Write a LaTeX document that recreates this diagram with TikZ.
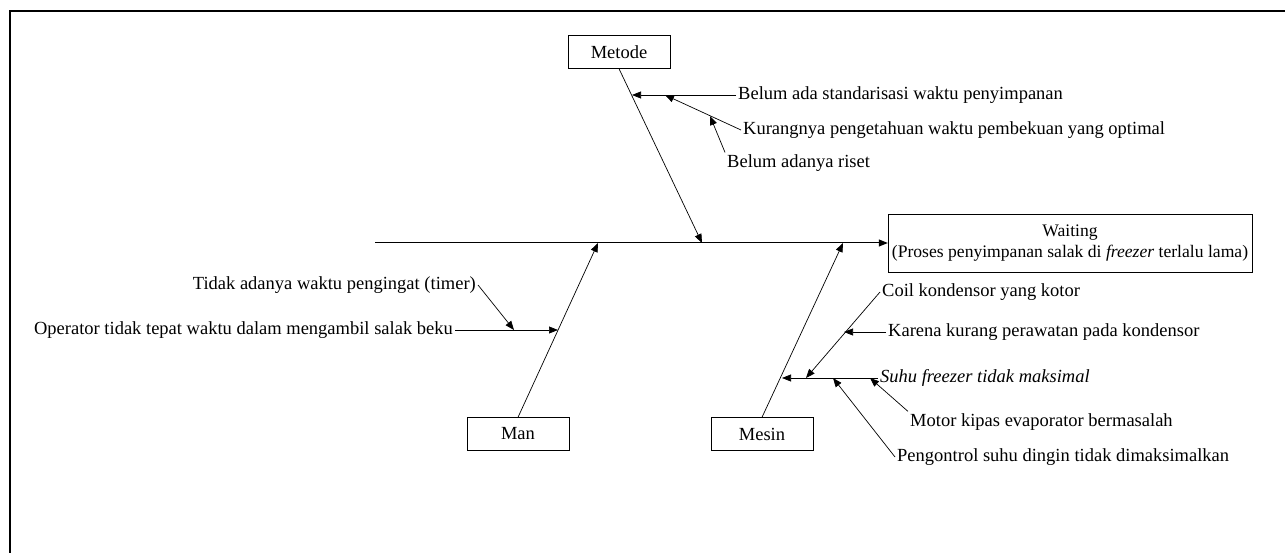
\documentclass[tikz,border=0pt]{standalone}
\usepackage{fontspec}
\setmainfont{Liberation Serif}
\usetikzlibrary{arrows.meta,positioning}

\begin{document}
\begin{tikzpicture}[x=1pt,y=-1pt,font=\fontsize{18.5}{21}\selectfont,>={Triangle[length=9pt,width=7pt]}]%
                    \useasboundingbox (0,0) rectangle (1285,553); %%
                    \draw[line width=2pt] (10,553)--(10,11)--(1285,11); %%
                    \begin{scope}
                        \tikzstyle{every node}=[draw,minimum width=102pt,minimum height=33pt,inner sep=0pt];%%
                        \node (metode) at (619,52)  {Metode}; %%
                        \node (man) at (518,434)  {Man}; %%
                        \node (mesin) at (762,434)  {Mesin}; %%
                        \node[minimum width=364pt,minimum height=58pt,align=center,font=\fontsize{17.6}{21}\selectfont] (waiting) at (1070,243)  {Waiting\\(Proses penyimpanan salak di \textit{freezer} terlalu lama)}; %%
                    \end{scope}
                    \begin{scope}
                        \tikzstyle{every node}=[inner sep=2pt];%%
                        \node[anchor=west] (std) at (736,95)  {Belum ada standarisasi waktu penyimpanan}; %%
                        \node[anchor=west] (kurang) at (741,130)  {Kurangnya pengetahuan waktu pembekuan yang optimal}; %%
                        \node[anchor=west] (riset) at (725,163)  {Belum adanya riset}; %%
                        \node[anchor=east] (timer) at (478,285)  {Tidak adanya waktu pengingat (timer)}; %%
                        \node[anchor=east] (operator) at (455,330)  {Operator tidak tepat waktu dalam mengambil salak beku}; %%
                        \node[anchor=west] (coil) at (880,292)  {Coil kondensor yang kotor}; %%
                        \node[anchor=west] (karena) at (886,332)  {Karena kurang perawatan pada kondensor}; %%
                        \node[anchor=west] (suhu) at (878,378)  {\textit{Suhu freezer tidak maksimal}}; %%
                        \node[anchor=west] (motor) at (908,422)  {Motor kipas evaporator bermasalah}; %%
                        \node[anchor=west] (kontrol) at (895,457)  {Pengontrol suhu dingin tidak dimaksimalkan}; %%
                    \end{scope}
                        \coordinate (spineL) at (375,243); %%
                        \coordinate (metodeTip) at (702,243); %%
                        \coordinate (manTip) at (598,243); %%
                        \coordinate (mesinTip) at (843,243); %%
                        \coordinate (stdTip) at (632,95); %%
                        \coordinate (kurangTip) at (665,95); %%
                        \coordinate (risetTip) at (710,116); %%
                        \coordinate (timerTip) at (514,330); %%
                        \coordinate (operatorTip) at (558,330); %%
                        \coordinate (suhuTip) at (782,378); %%
                        \coordinate (coilTip) at (806,378); %%
                        \coordinate (karenaTip) at (844,332); %%
                        \coordinate (motorTip) at (870,378); %%
                        \coordinate (kontrolTip) at (833,378); %%
                        \draw[->,line width=1pt] (spineL)--(waiting.west); %%
                        \draw[->,line width=.7pt] (metode.south)--(metodeTip); %%
                        \draw[->,line width=.7pt] (man.north)--(manTip); %%
                        \draw[->,line width=.7pt] (mesin.north)--(mesinTip); %%
                        \draw[->,line width=.7pt] (std.west)--(stdTip); %%
                        \draw[->,line width=.7pt] (kurang.west)--(kurangTip); %%
                        \draw[->,line width=.7pt] (riset.north west)--(risetTip); %%
                        \draw[->,line width=.7pt] (timer.east)--(timerTip); %%
                        \draw[->,line width=.7pt] (operator.east)--(operatorTip); %%
                        \draw[->,line width=.7pt] (suhu.west)--(suhuTip); %%
                        \draw[->,line width=.7pt] (coil.west)--(coilTip); %%
                        \draw[->,line width=.7pt] (karena.west)--(karenaTip); %%
                        \draw[->,line width=.7pt] (motor.north west)--(motorTip); %%
                        \draw[->,line width=.7pt] (kontrol.west)--(kontrolTip); %%
                    \end{tikzpicture}
\end{document}
